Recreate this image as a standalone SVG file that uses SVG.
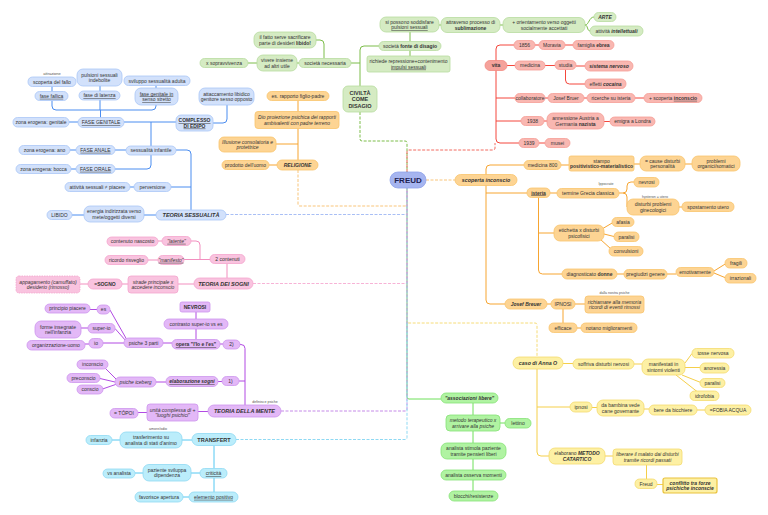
<svg xmlns="http://www.w3.org/2000/svg" width="768" height="515" viewBox="0 0 768 515">
<style>
text{font-family:"Liberation Sans",Arial,sans-serif;font-size:5px;fill:#333;text-anchor:middle}
.s{font-size:3.6px;fill:#555}
.bi{font-weight:bold;font-style:italic}
.b{font-weight:bold}
.i{font-style:italic}
.u{text-decoration:underline}
.t{font-size:5.5px}
rect{stroke-width:0.8}
.nb{fill:#d2e1fb;stroke:#a9c6f6}
.ng{fill:#d5ebc3;stroke:#b8dc9f}
.nr{fill:#f9b7b1;stroke:#f59d95}
.no{fill:#fdd493;stroke:#f9c46c}
.ny{fill:#fdf0a4;stroke:#f4da6e}
.np{fill:#f9c3df;stroke:#f4a5cd}
.nv{fill:#e3b8f7;stroke:#cd95ee}
.nc{fill:#bbedfb;stroke:#8fd9f3}
.nl{fill:#b0f3a2;stroke:#86e276}
path{fill:none;stroke-width:1}
.lg{stroke:#7cbd4a}.lr{stroke:#f4473c}.lo{stroke:#f7a531}.lb{stroke:#4b8df0}.lp{stroke:#f28fbf}
.lv{stroke:#b24be3}.lc{stroke:#55c8f2}.ll{stroke:#6fe05a}.ly{stroke:#f5cf4a}
.d{stroke-dasharray:3 1.5}
</style>
<g id="connectors">
<path class="ll" d="M407,188 V397 Q407,399 409,399 H441"/>
<path class="lg d" d="M360,112 V139 Q360,141 362,141 H405 Q407,141 407,143 V172"/>
<path class="lr d" style="stroke:#f26a60" d="M407,172 V152 Q407,150 409,150 H493 Q495,150 495,148 V143"/>
<path class="lo d" style="stroke:#f9c57a" d="M298,170 V204 Q298,206 300,206 H405 Q407,206 407,204 V188"/>
<path class="lb d" style="stroke:#a9bff5" d="M226,214.5 H405 Q407,214.5 407,212.5 V188"/>
<path class="lp d" style="stroke:#f7b3d6" d="M253,283.5 H405 Q407,283.5 407,281.5 V188"/>
<path class="ly d" style="stroke:#f6dc78" d="M407,188 V321 Q407,323 409,323 H535 Q537,323 537,325 V357"/>
<path class="lv d" style="stroke:#c58ae8" d="M281,411 H405 Q407,411 407,409 V188"/>
<path class="lc d" style="stroke:#8fd9f3" d="M236,439.5 H405 Q407,439.5 407,437.5 V188"/>
<path class="lo d" style="stroke:#f9c57a" d="M426,180 H455"/>
<!-- green -->
<path class="lg" d="M360,86 V50 Q360,46 364,46 H379"/>
<path class="lg" d="M351,63 H360"/>
<path class="lg" d="M316,40 H320 Q324,40 324,44 V58.5"/>
<path class="lg" d="M248,63 H257 M297,63 H299"/>
<path class="lg" d="M410,41.5 V32 M410,50.5 V56 M439,25 H441 M500,25 H503"/>
<path class="lg" d="M585,25 C589,25 589,17 594,17 M585,25 C588,25 587,31 590,31"/>
<!-- red -->
<path class="lr" d="M514,45 H500 Q496,45 496,49 V139 Q496,143 500,143 H519"/>
<path class="lr" d="M507,65.5 H515 M496,98 H515 M496,121 H521"/>
<path class="lr" d="M535,45 H539 M565,45 H573 M545,65.5 H555 M576,66 H585 M565.5,69.5 V80 Q565.5,84 569.5,84 H585"/>
<path class="lr" d="M545,98 H548 M584,98 H587 M635,98 H644 M544,121 H547 M604,121.5 H610 M539,143 H545"/>
<!-- orange religion -->
<path class="lo" d="M298,100.5 V111.5 M298,128.5 V160 M276,144 H298 M269,165 H277"/>
<!-- blue -->
<path class="lb" d="M156,215 H144 M84,215 H72"/>
<path class="lb" d="M191,210 V154 Q191,150 187,150 H176 M171,187 H191 M134,187 H130"/>
<path class="lb" d="M126,150 H115 M76,150 H70 M76,169 H71 M78,122 H69"/>
<path class="lb" d="M124,122 H176 M151,122 V146 M151,155 V165 Q151,169 147,169 H115"/>
<path class="lb" d="M100.5,117.5 V110 M52,100.5 V106 Q52,110 56,110 H152 Q156,110 156,106 V105 M100,110 V100"/>
<path class="lb" d="M52,91.5 V86.5 M100,91 V86 M156,88 V85.5 M213,123 H223 Q227,123 227,119 V105"/>
<!-- pink -->
<path class="lp" d="M158,241 H162 M148,260 H158 M191,241 H196 Q200,241 200,245 V259.5 M184,259.5 H210"/>
<path class="lp" d="M227,263.5 V278 M194,284 H178 M128,284 H122 M88,284 H80"/>
<!-- purple -->
<path class="lv" d="M240,344.5 H241 Q245,344.5 245,348.5 V405 M239,381 H245"/>
<path class="lv" d="M220,344 H223 M163,343 H172 M124,343 H103 M127,340 L110,310 M126,341 L115,328.5"/>
<path class="lv" d="M97,309.5 H90 M88,328 H81 M89,344 H85 M196,339.5 V329 M196,319 V312"/>
<path class="lv" d="M218,381.5 H222 M156,382 H166 M117,380 L105,368 M115,382 L100,378.5 M117,384 L101,389.5"/>
<path class="lv" d="M208,411.5 H198 M147,412.5 H138"/>
<!-- cyan -->
<path class="lc" d="M192,440 H182 M120,440 H112 M214,445.5 V468.5 M214,478 V492 M200,473 H191 M143,473 H135 M189,497 H183"/>
<!-- light green -->
<path class="ll" d="M473,403 V491 M500,423 H505"/>
<!-- yellow -->
<path class="ly" d="M537,369 V452 Q537,456 541,456 H549 M537,407 H570"/>
<path class="ly" d="M563,363.5 H573 M634,364 H642 M685,363 L692,353.5 M685,367.5 H700 M682,375 L702,383 M676,375 L697,391.5"/>
<path class="ly" d="M592,407.5 H597 M644,409 H649 M697,410 H705 M605,456 H613 M646.5,465 V479 M657,484.5 H663"/>
<!-- orange right -->
<path class="lo" d="M524,165 H490 Q486,165 486,169 V300 Q486,304 490,304 H505 M486,193 H527"/>
<path class="lo" d="M561,165 H569 M634,164 H640 M685,164 H692 M550,193 H557"/>
<path class="lo" d="M619,193 H623 Q627,193 627,189 V186 Q627,182 631,182 H634 M623,193 Q627,193 627,197 V207 M679,207 H682"/>
<path class="lo" d="M538.5,197.5 V270 Q538.5,274 542.5,274 H562 M538.5,233 H554"/>
<path class="lo" d="M602,229 L613,222.5 M604,234 L614,236.5 M600,239 L611,249"/>
<path class="lo" d="M617,274 H624 M667,274 H676 M714,271 L726,263.5 M714,273 L726,278"/>
<path class="lo" d="M547,304 H551 M575,304 H585 M563,309 V323 M577,328 H581"/>
</g>
<g id="freud"><rect x="390" y="172" width="36" height="16" rx="8" style="fill:#a6b5f0;stroke:#8fa2ea"/><text x="408" y="182.8" class="b" style="font-size:8px;fill:#1e2250">FREUD</text></g>
<!-- green nodes -->
<g id="civilta"><rect class="ng" x="343" y="86" width="34" height="26" rx="5"/><text x="360" y="94.5" class="b t">CIVILTÀ</text><text x="360" y="101" class="b t">COME</text><text x="360" y="107.5" class="b t">DISAGIO</text></g>
<g id="soc_nec"><rect class="ng" x="299" y="58.5" width="52" height="9" rx="4.5"/><text x="325" y="64.8">società necessaria</text></g>
<g id="fatto"><rect class="ng" x="254" y="32" width="62" height="16" rx="6"/><text x="285" y="39">il fatto serve sacrificare</text><text x="285" y="44.6">parte di desideri <tspan class="b">libido!</tspan></text></g>
<g id="vivere"><rect class="ng" x="257" y="55" width="40" height="16" rx="6"/><text x="277" y="62">vivere insieme</text><text x="277" y="67.6">ad altri utile</text></g>
<g id="soprav"><rect class="ng" x="200" y="58.5" width="48" height="9" rx="4.5"/><text x="224" y="64.8">x sopravvivenza</text></g>
<g id="fonte"><rect class="ng" x="379" y="41.5" width="62" height="9" rx="4.5"/><text x="410" y="47.8">società <tspan class="b">fonte di disagio</tspan></text></g>
<g id="possono"><rect class="ng" x="380" y="17" width="59" height="15" rx="6"/><text x="409.5" y="23.5">si possono soddisfare</text><text x="409.5" y="29.1" class="u">pulsioni sessuali</text></g>
<g id="attraverso"><rect class="ng" x="441" y="17.5" width="59" height="15" rx="6"/><text x="470.5" y="24">attraverso processo di</text><text x="470.5" y="29.6" class="b">sublimazione</text></g>
<g id="orient"><rect class="ng" x="503" y="17.5" width="82" height="15" rx="6"/><text x="544" y="24">+ orientamento verso oggetti</text><text x="544" y="29.6">socialmente accettati</text></g>
<g id="arte"><rect class="ng" x="594" y="12.5" width="22" height="9" rx="4.5"/><text x="605" y="18.8" class="bi">ARTE</text></g>
<g id="intell"><rect class="ng" x="590" y="26" width="53" height="10" rx="5"/><text x="616.5" y="32.8">attività <tspan class="bi">intellettuali</tspan></text></g>
<g id="richiede"><rect class="ng" x="367" y="56" width="83" height="16" rx="2"/><text x="408.5" y="63">richiede repressione+contenimento</text><text x="408.5" y="68.6" class="u">impulsi sessuali</text></g>
<!-- red nodes -->
<g id="vita"><rect x="485" y="60.5" width="22" height="10" rx="5" style="fill:#f5a29b;stroke:#f28a81"/><text x="496" y="67.3" class="b">vita</text></g>
<g id="n1856"><rect class="nr" x="514" y="40.5" width="21" height="9" rx="4.5"/><text x="524.5" y="46.8">1856</text></g>
<g id="moravia"><rect class="nr" x="539" y="40.5" width="26" height="9" rx="4.5"/><text x="552" y="46.8">Moravia</text></g>
<g id="famiglia"><rect class="nr" x="573" y="40.5" width="41" height="9" rx="4.5"/><text x="593.5" y="46.8">famiglia <tspan class="b">ebrea</tspan></text></g>
<g id="medicina"><rect class="nr" x="515" y="61" width="30" height="9" rx="4.5"/><text x="530" y="67.3">medicina</text></g>
<g id="studia"><rect class="nr" x="555" y="60.5" width="21" height="9" rx="4.5"/><text x="565.5" y="66.8">studia</text></g>
<g id="sistema"><rect class="nr" x="585" y="61" width="48" height="10" rx="5"/><text x="609" y="67.8" class="bi">sistema nervoso</text></g>
<g id="cocaina"><rect class="nr" x="585" y="79" width="41" height="9.5" rx="4.5"/><text x="605.5" y="85.5">effetti <tspan class="bi">cocaina</tspan></text></g>
<g id="collab"><rect class="nr" x="515" y="93.5" width="30" height="9" rx="4.5"/><text x="530" y="99.8">collaboratore</text></g>
<g id="bruer"><rect class="nr" x="548" y="93.5" width="36" height="9" rx="4.5"/><text x="566" y="99.8">Josef Bruer</text></g>
<g id="ricerche"><rect class="nr" x="587" y="93.5" width="48" height="9" rx="4.5"/><text x="611" y="99.8">ricerche su isteria</text></g>
<g id="scop_inc"><rect class="nr" x="644" y="93.5" width="58" height="9" rx="4.5"/><text x="673" y="99.8">+ scoperta <tspan class="b u">inconscio</tspan></text></g>
<g id="n1938"><rect class="nr" x="521" y="116.5" width="23" height="9" rx="4.5"/><text x="532.5" y="122.8">1938</text></g>
<g id="annessione"><rect class="nr" x="547" y="113" width="57" height="16" rx="6"/><text x="575.5" y="120">annessione Austria a</text><text x="575.5" y="125.6">Germania <tspan class="b">nazista</tspan></text></g>
<g id="emigra"><rect class="nr" x="610" y="117" width="45" height="9" rx="4.5"/><text x="632.5" y="123.3">emigra a Londra</text></g>
<g id="n1939"><rect class="nr" x="519" y="138.5" width="20" height="9" rx="4.5"/><text x="529" y="144.8">1939</text></g>
<g id="musei"><rect class="nr" x="545" y="138.5" width="25" height="9" rx="4.5"/><text x="557.5" y="144.8">musei</text></g>
<!-- orange religion -->
<g id="religione"><rect class="no" x="277" y="160" width="41" height="10" rx="5"/><text x="297.5" y="166.8" class="bi">RELIGIONE</text></g>
<g id="es_rapp"><rect class="no" x="267" y="91.5" width="62" height="9" rx="4.5"/><text x="298" y="97.8">es. rapporto figlio-padre</text></g>
<g id="dio"><rect class="no" x="255" y="111.5" width="84" height="17" rx="3"/><text x="297" y="119" class="i">Dio proiezione psichica dei rapporti</text><text x="297" y="124.6" class="i">ambivalenti con padre terreno</text></g>
<g id="illusione"><rect class="no" x="219" y="137" width="57" height="15" rx="5"/><text x="247.5" y="143.5" class="i">Illusione consolatoria e</text><text x="247.5" y="149.1" class="i">protettrice</text></g>
<g id="prodotto"><rect class="no" x="222" y="160.5" width="47" height="9" rx="4.5"/><text x="245.5" y="166.8">prodotto dell'uomo</text></g>
<!-- blue -->
<g id="teoria_sess"><rect class="nb" x="156" y="210" width="70" height="10" rx="5"/><text x="191" y="217" class="bi t">TEORIA SESSUALITÀ</text></g>
<g id="energia"><rect class="nb" x="84" y="206" width="60" height="16" rx="6"/><text x="114" y="213">energia indirizzata verso</text><text x="114" y="218.6">mete/oggetti diversi</text></g>
<g id="libido"><rect class="nb" x="47" y="210.5" width="25" height="9" rx="4.5"/><text x="59.5" y="216.8">LIBIDO</text></g>
<g id="perversione"><rect class="nb" x="134" y="182.5" width="37" height="9" rx="4.5"/><text x="152.5" y="188.8">perversione</text></g>
<g id="attivita"><rect class="nb" x="65" y="182.5" width="65" height="9" rx="4.5"/><text x="97.5" y="188.8">attività sessuali ≠ piacere</text></g>
<g id="sess_inf"><rect class="nb" x="126" y="146" width="50" height="9" rx="4.5"/><text x="151" y="152.3">sessualità infantile</text></g>
<g id="anale"><rect class="nb" x="76" y="145.5" width="39" height="9" rx="4.5"/><text x="95.5" y="151.8" class="u">FASE ANALE</text></g>
<g id="zona_ano"><rect class="nb" x="19" y="145.5" width="51" height="9" rx="4.5"/><text x="44.5" y="151.8">zona erogena: ano</text></g>
<g id="orale"><rect class="nb" x="76" y="164.5" width="39" height="9" rx="4.5"/><text x="95.5" y="170.8" class="u">FASE ORALE</text></g>
<g id="zona_bocca"><rect class="nb" x="16" y="164.5" width="55" height="9" rx="4.5"/><text x="43.5" y="170.8">zona erogena: bocca</text></g>
<g id="genitale"><rect class="nb" x="78" y="117.5" width="46" height="10" rx="5"/><text x="101" y="124.3" class="u">FASE GENITALE</text></g>
<g id="zona_gen"><rect class="nb" x="13" y="117.5" width="56" height="9.5" rx="4.5"/><text x="41" y="124">zona erogena: genitale</text></g>
<g id="fallica"><rect class="nb" x="35" y="91.5" width="33" height="9" rx="4.5"/><text x="51.5" y="97.8" class="u">fase fallica</text></g>
<g id="scop_fallo"><text x="52" y="75" class="s" style="font-size:4px">attrazione</text><rect class="nb" x="28" y="77" width="48" height="9.5" rx="4.5"/><text x="52" y="83.5">scoperta del fallo</text></g>
<g id="latenza"><rect class="nb" x="79" y="91" width="41" height="9" rx="4.5"/><text x="99.5" y="97.3" class="u">fase di latenza</text></g>
<g id="pulsioni"><rect class="nb" x="77" y="69" width="45" height="17" rx="6"/><text x="99.5" y="76.5">pulsioni sessuali</text><text x="99.5" y="82.1">indebolite</text></g>
<g id="stretto"><rect class="nb" x="135" y="88" width="43" height="17" rx="6"/><text x="156.5" y="95.5" class="u">fase genitale in</text><text x="156.5" y="101.1" class="u">senso stretto</text></g>
<g id="sviluppo"><rect class="nb" x="124" y="76" width="66" height="9.5" rx="4.5"/><text x="157" y="82.5">sviluppo sessualità adulta</text></g>
<g id="edipo"><rect class="nb" x="176" y="115" width="37" height="16" rx="5"/><text x="194.5" y="122" class="b u">COMPLESSO</text><text x="194.5" y="127.6" class="b u">DI EDIPO</text></g>
<g id="attacc"><rect class="nb" x="199" y="88" width="55" height="17" rx="6"/><text x="226.5" y="95.5">attaccamento libidico</text><text x="226.5" y="101.1">genitore sesso opposto</text></g>
<!-- pink -->
<g id="sogni"><rect class="np" x="194" y="278" width="59" height="11" rx="5.5"/><text x="223.5" y="285.5" class="bi t">TEORIA DEI SOGNI</text></g>
<g id="contenuti"><rect class="np" x="210" y="254.5" width="35" height="9" rx="4.5"/><text x="227.5" y="260.8">2 contenuti</text></g>
<g id="nascosto"><rect class="np" x="107" y="237" width="51" height="9" rx="4.5"/><text x="132.5" y="243.3">contenuto nascosto</text></g>
<g id="latente"><rect class="np" x="162" y="236.5" width="29" height="9" rx="4.5"/><text x="176.5" y="242.8" class="i u">"latente"</text></g>
<g id="ricordo"><rect class="np" x="105" y="255.5" width="43" height="9" rx="4.5"/><text x="126.5" y="261.8">ricordo risveglio</text></g>
<g id="manifesto"><rect class="np" x="158" y="255.5" width="26" height="9" rx="4.5"/><text x="171" y="261.8" class="i u">"manifesto"</text></g>
<g id="strade"><rect class="np" x="128" y="276" width="50" height="17" rx="3"/><text x="153" y="283.5" class="i">strade principale x</text><text x="153" y="289.1" class="i">accedere inconscio</text></g>
<g id="sogno"><rect class="np" x="88" y="279" width="34" height="10" rx="5"/><text x="105" y="285.8" class="b">=SOGNO</text></g>
<g id="appagamento"><rect class="np" x="16" y="276" width="64" height="17" rx="3" style="stroke-dasharray:1.5 1"/><text x="48" y="283.5" class="i">appagamento (camuffato)</text><text x="48" y="289.1" class="i">desiderio (rimosso)</text></g>
<!-- purple -->
<g id="mente"><text x="265" y="403.3" class="s">definisce psiche</text><rect class="nv" x="208" y="405" width="73" height="12" rx="6"/><text x="244.5" y="413" class="bi t">TEORIA DELLA MENTE</text></g>
<g id="unita"><rect class="nv" x="147" y="404" width="51" height="17" rx="3"/><text x="172.5" y="411.5" class="i">unità complessa di +</text><text x="172.5" y="417.1" class="i">"luoghi psichici"</text></g>
<g id="topoi"><rect class="nv" x="110" y="408.5" width="28" height="9.5" rx="4.5"/><text x="124" y="415">= TÓPOI</text></g>
<g id="p1"><rect class="nv" x="222" y="376.5" width="17" height="9" rx="4.5"/><text x="230.5" y="382.8">1)</text></g>
<g id="p2"><rect class="nv" x="223" y="340" width="17" height="9" rx="4.5"/><text x="231.5" y="346.3">2)</text></g>
<g id="elab"><rect class="nv" x="166" y="376.5" width="52" height="10" rx="5"/><text x="192" y="383.3" class="bi u">elaborazione sogni</text></g>
<g id="iceberg"><rect class="nv" x="115" y="377" width="41" height="10" rx="5"/><text x="135.5" y="383.8" class="i">psiche iceberg</text></g>
<g id="inconscio"><rect class="nv" x="77" y="360" width="31" height="9" rx="4.5"/><text x="92.5" y="366.3">inconscio</text></g>
<g id="preconscio"><rect class="nv" x="67" y="373.5" width="33" height="9" rx="4.5"/><text x="83.5" y="379.8">preconscio</text></g>
<g id="conscio"><rect class="nv" x="77" y="385" width="26" height="9" rx="4.5"/><text x="90" y="391.3">conscio</text></g>
<g id="opera"><rect class="nv" x="172" y="339.5" width="48" height="9.5" rx="4.5"/><text x="196" y="346" class="b u">opera "l'Io e l'es"</text></g>
<g id="psiche3"><rect class="nv" x="124" y="338" width="39" height="9.5" rx="4.5"/><text x="143.5" y="344.5">psiche 3 parti</text></g>
<g id="es"><rect class="nv" x="97" y="305" width="13" height="9" rx="4.5"/><text x="103.5" y="311.3">es</text></g>
<g id="principio"><rect class="nv" x="45" y="304" width="45" height="9" rx="4.5"/><text x="67.5" y="310.3">principio piacere</text></g>
<g id="superio"><rect class="nv" x="88" y="323.5" width="27" height="9.5" rx="4.5"/><text x="101.5" y="330">super-io</text></g>
<g id="forme"><rect class="nv" x="35" y="321" width="46" height="17" rx="6"/><text x="58" y="328.5">forme insegnate</text><text x="58" y="334.1">nell'infanzia</text></g>
<g id="io"><rect class="nv" x="89" y="338.5" width="14" height="9.5" rx="4.5"/><text x="96" y="345">io</text></g>
<g id="organizz"><rect class="nv" x="27" y="340.5" width="58" height="9.5" rx="4.5"/><text x="56" y="347">organizzazione-uomo</text></g>
<g id="contrasto"><rect class="nv" x="164" y="319" width="64" height="10" rx="5"/><text x="196" y="325.8">contrasto super-io vs es</text></g>
<g id="nevrosi"><rect class="nv" x="180" y="302" width="30" height="10" rx="2"/><text x="195" y="308.8" class="b">NEVROSI</text></g>
<!-- cyan -->
<g id="transfert"><rect class="nc" x="192" y="433.5" width="44" height="12" rx="6"/><text x="214" y="441.5" class="b t">TRANSFERT</text></g>
<g id="trasfer"><text x="158" y="429.5" class="s">amore/odio</text><rect class="nc" x="120" y="432" width="62" height="16" rx="6"/><text x="151" y="439">trasferimento su</text><text x="151" y="444.6">analista di stati d'animo</text></g>
<g id="infanzia"><rect class="nc" x="86" y="435.5" width="26" height="9" rx="4.5"/><text x="99" y="441.8">infanzia</text></g>
<g id="critic"><rect class="nc" x="200" y="468.5" width="27" height="9.5" rx="4.5"/><text x="213.5" y="475" class="u">criticità</text></g>
<g id="paziente"><rect class="nc" x="143" y="464.5" width="48" height="16.5" rx="6"/><text x="167" y="471.75">paziente sviluppa</text><text x="167" y="477.35">dipendenza</text></g>
<g id="vsanal"><rect class="nc" x="103" y="469" width="32" height="9" rx="4.5"/><text x="119" y="475.3">vs analista</text></g>
<g id="elemento"><rect class="nc" x="189" y="492" width="49" height="10" rx="5"/><text x="213.5" y="498.8" class="u">elemento positivo</text></g>
<g id="favor"><rect class="nc" x="135" y="492" width="48" height="10" rx="5"/><text x="159" y="498.8">favorisce apertura</text></g>
<!-- light green -->
<g id="assoc"><rect class="nl" x="441" y="393" width="57" height="10" rx="5"/><text x="469.5" y="399.8" class="bi">"associazioni libere"</text></g>
<g id="metodo"><rect class="nl" x="446" y="415" width="54" height="16" rx="4"/><text x="473" y="422" class="i">metodo terapeutico x</text><text x="473" y="427.6" class="i">arrivare alla psiche</text></g>
<g id="lettino"><rect class="nl" x="505" y="418.5" width="26" height="9.5" rx="4.5"/><text x="518" y="425">lettino</text></g>
<g id="stimola"><rect class="nl" x="441" y="443" width="65" height="16" rx="6"/><text x="473.5" y="450">analista stimola paziente</text><text x="473.5" y="455.6">tramite pensieri liberi</text></g>
<g id="osserva"><rect class="nl" x="441" y="470" width="65" height="10" rx="5"/><text x="473.5" y="476.8">analista osserva momenti</text></g>
<g id="blocchi"><rect class="nl" x="449" y="491" width="49" height="10" rx="5"/><text x="473.5" y="497.8">blocchi/resistenze</text></g>
<!-- yellow -->
<g id="anna"><rect class="ny" x="513" y="357" width="50" height="12" rx="6"/><text x="538" y="364.8" class="bi" style="font-size:5.3px">caso di Anna O</text></g>
<g id="soffriva"><rect class="ny" x="573" y="359" width="61" height="10" rx="5"/><text x="603.5" y="365.8">soffriva disturbi nervosi</text></g>
<g id="manif"><rect class="ny" x="642" y="359" width="43" height="16" rx="6"/><text x="663.5" y="366">manifestati in</text><text x="663.5" y="371.6">sintomi violenti</text></g>
<g id="tosse"><rect class="ny" x="692" y="348.5" width="42" height="9.5" rx="4.5"/><text x="713" y="355">tosse nervosa</text></g>
<g id="anoressia"><rect class="ny" x="700" y="363" width="29" height="10" rx="5"/><text x="714.5" y="369.8">anoressia</text></g>
<g id="paralisi_y"><rect class="ny" x="700" y="378.5" width="25" height="9" rx="4.5"/><text x="712.5" y="384.8">paralisi</text></g>
<g id="idrofobia"><rect class="ny" x="690" y="391" width="29" height="9.5" rx="4.5"/><text x="704.5" y="397.5">idrofobia</text></g>
<g id="ipnosi_y"><rect class="ny" x="570" y="402" width="22" height="10" rx="5"/><text x="581" y="408.8">ipnosi</text></g>
<g id="bambina"><rect class="ny" x="597" y="400" width="47" height="16" rx="6"/><text x="620.5" y="407">da bambina vede</text><text x="620.5" y="412.6">cane governante</text></g>
<g id="bere"><rect class="ny" x="649" y="405" width="48" height="10" rx="5"/><text x="673" y="411.8">bere da bicchiere</text></g>
<g id="fobia"><rect class="ny" x="705" y="405" width="46" height="10" rx="5"/><text x="728" y="411.8">=FOBIA ACQUA</text></g>
<g id="catart"><rect class="ny" x="549" y="448" width="56" height="16" rx="6"/><text x="577" y="455">elaborano <tspan class="bi">METODO</tspan></text><text x="577" y="460.6" class="bi">CATARTICO</text></g>
<g id="liberare"><rect class="ny" x="613" y="449" width="69" height="16" rx="3"/><text x="647.5" y="456" class="i">liberare il malato dai disturbi</text><text x="647.5" y="461.6" class="i">tramite ricordi passati</text></g>
<g id="freud_y"><rect class="ny" x="635" y="479" width="22" height="9.5" rx="4.5"/><text x="646" y="485.5">Freud</text></g>
<g id="conflitto"><rect class="ny" x="663" y="478" width="54" height="15" rx="2" style="stroke:#e9c23c;stroke-width:1.2"/><text x="690" y="484.5" class="bi">conflitto tra forze</text><text x="690" y="490.1" class="bi">psichiche inconscie</text></g>
<!-- orange right -->
<g id="scoperta"><rect class="no" x="455" y="174.5" width="62" height="11" rx="5.5"/><text x="486" y="181.9" class="bi" style="font-size:5.3px">scoperta inconscio</text></g>
<g id="med800"><rect class="no" x="524" y="160.5" width="37" height="9" rx="4.5"/><text x="542.5" y="166.8">medicina 800</text></g>
<g id="stampo"><rect class="no" x="569" y="156" width="65" height="15" rx="2"/><text x="601.5" y="162.5">stampo</text><text x="601.5" y="168.1" class="b">positivistico-materialistico</text></g>
<g id="cause"><rect class="no" x="640" y="156" width="45" height="15" rx="6"/><text x="662.5" y="162.5">= cause disturbi</text><text x="662.5" y="168.1">personalità</text></g>
<g id="problemi"><rect class="no" x="692" y="156" width="48" height="15" rx="6"/><text x="716" y="162.5">problemi</text><text x="716" y="168.1">organici/somatici</text></g>
<g id="isteria"><rect class="no" x="527" y="188" width="23" height="9.5" rx="4.5"/><text x="538.5" y="194.5" class="b u">isteria</text></g>
<g id="termine"><text x="606" y="185.3" class="s">Ippocrate</text><rect class="no" x="557" y="188.5" width="62" height="9.5" rx="4.5"/><text x="588" y="195">termine Grecia classica</text></g>
<g id="nevrosi_o"><rect class="no" x="634" y="177.5" width="25" height="9.5" rx="4.5"/><text x="646.5" y="184">nevrosi</text></g>
<g id="disturbi"><text x="655" y="197.6" class="s">hysteron = utero</text><rect class="no" x="627" y="199" width="52" height="16" rx="6"/><text x="653" y="206">disturbi problemi</text><text x="653" y="211.6">ginecologici</text></g>
<g id="spost"><rect class="no" x="682" y="202" width="52" height="9.5" rx="4.5"/><text x="708" y="208.5">spostamento utero</text></g>
<g id="etichetta"><rect class="no" x="554" y="225" width="50" height="16" rx="6"/><text x="579" y="232">etichetta x disturbi</text><text x="579" y="237.6">psicofisici</text></g>
<g id="afasia"><rect class="no" x="612" y="217.5" width="22" height="9" rx="4.5"/><text x="623" y="223.8">afasia</text></g>
<g id="paralisi_o"><rect class="no" x="614" y="232" width="25" height="9.5" rx="4.5"/><text x="626.5" y="238.5">paralisi</text></g>
<g id="convuls"><rect class="no" x="609" y="246.5" width="34" height="9.5" rx="4.5"/><text x="626" y="253">convulsioni</text></g>
<g id="diagn"><rect class="no" x="562" y="269" width="55" height="10" rx="5"/><text x="589.5" y="275.8">diagnosticato <tspan class="b">donne</tspan></text></g>
<g id="pregiud"><rect class="no" x="624" y="269.5" width="43" height="9.5" rx="4.5"/><text x="645.5" y="276">pregiudizi genere</text></g>
<g id="emotiv"><rect class="no" x="676" y="267.5" width="38" height="9" rx="4.5"/><text x="695" y="273.8">emotivamente</text></g>
<g id="fragili"><rect class="no" x="725" y="258.5" width="22" height="9.5" rx="4.5"/><text x="736" y="265">fragili</text></g>
<g id="irraz"><rect class="no" x="725" y="273.5" width="31" height="9.5" rx="4.5"/><text x="740.5" y="280">irrazionali</text></g>
<g id="breuer"><rect class="no" x="505" y="299" width="42" height="10" rx="5"/><text x="526" y="305.8" class="bi">Josef Breuer</text></g>
<g id="ipnosi_o"><rect class="no" x="551" y="299" width="24" height="10" rx="5"/><text x="563" y="305.8">IPNOSI</text></g>
<g id="richiamare"><text x="614.5" y="294" class="s">dalla nostra psiche</text><rect class="no" x="585" y="296" width="59" height="17" rx="3"/><text x="614.5" y="303.5" class="i">richiamare alla memoria</text><text x="614.5" y="309.1" class="i">ricordi di eventi rimossi</text></g>
<g id="efficace"><rect class="no" x="549" y="323" width="28" height="9.5" rx="4.5"/><text x="563" y="329.5">efficace</text></g>
<g id="notano"><rect class="no" x="581" y="323" width="56" height="9.5" rx="4.5"/><text x="609" y="329.5">notano miglioramenti</text></g>
</svg>
